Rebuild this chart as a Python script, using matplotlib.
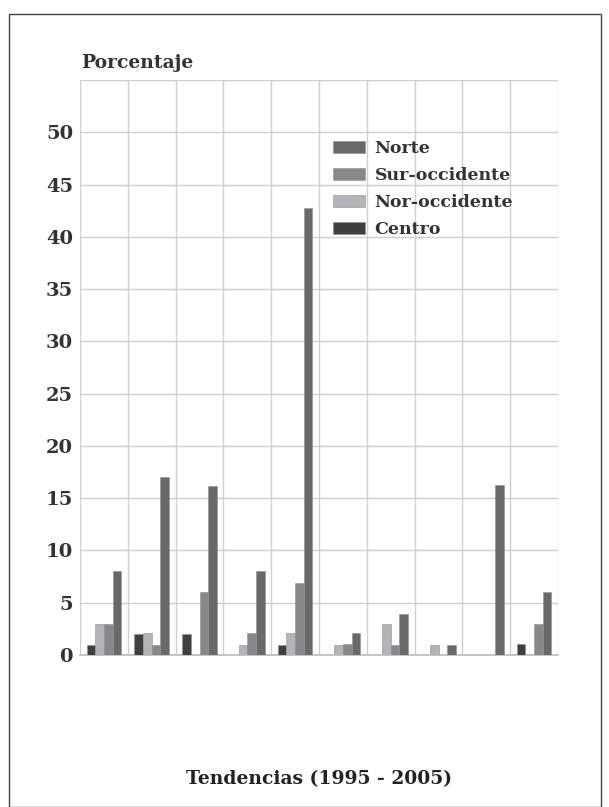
import numpy as np
import matplotlib.pyplot as plt
from matplotlib.patches import Rectangle

# Data (10 groups, 1995-2005)
series = ["Centro", "Nor-occidente", "Sur-occidente", "Norte"]
centro = [1, 2, 2, 0, 1, 0, 0, 0, 0, 1.1]
nor_occ = [3, 2.1, 0, 1, 2.1, 1, 3, 1, 0, 0]
sur_occ = [3, 1, 6, 2.1, 6.9, 1.1, 1, 0, 0, 3]
norte = [8, 17, 16.2, 8, 42.8, 2.1, 3.9, 1, 16.3, 6]
colors = {"Centro": "#3f3f41", "Nor-occidente": "#b4b4b6",
          "Sur-occidente": "#88888a", "Norte": "#69696b"}
yticks = [0, 5, 10, 15, 20, 25, 30, 35, 40, 45, 50]

plt.rcParams['font.family'] = ['DejaVu Serif']

fig = plt.figure(figsize=(6.09, 8.07), dpi=100)
ax = fig.add_axes([80 / 609, 1 - 655 / 807, 478 / 609, 575 / 807])

x = np.arange(len(norte))
w = 0.18
vals = [centro, nor_occ, sur_occ, norte]
for i, (name, v) in enumerate(zip(series, vals)):
    ax.bar(x + (i - 1.5) * w, v, width=w, color=colors[name],
           edgecolor="#909090", linewidth=0.4, zorder=3)

ax.set_xlim(-0.5, len(norte) - 0.5)
ax.set_ylim(0, 55)
ax.set_xticks(np.arange(-0.5, len(norte), 1))
ax.set_xticklabels([])
ax.set_yticks(np.arange(0, 56, 5))
ax.set_yticklabels([str(t) if t in yticks else "" for t in range(0, 56, 5)],
                   fontsize=14, fontweight="bold", color="#333333")
ax.tick_params(length=0, pad=5)
ax.grid(True, color="#cfcfcf", linewidth=1, zorder=0)
for s in ["top", "right", "left"]:
    ax.spines[s].set_visible(False)
ax.spines["bottom"].set_color("#bbbbbb")
ax.spines["bottom"].set_linewidth(1.2)

# legend (Norte first)
handles = [Rectangle((0, 0), 1, 1, color=colors[n], ec="#909090", lw=0.4)
           for n in series[::-1]]
ax.legend(handles, series[::-1], loc="upper left",
          bbox_to_anchor=(253 / 478, 1 - 60 / 575), frameon=False,
          prop={"size": 12.5, "weight": "bold"}, labelcolor="#333333",
          handlelength=1.83, handleheight=0.7, handletextpad=0.57,
          labelspacing=0.58, borderpad=0, borderaxespad=0)

fig.text(81 / 609, 1 - 63 / 807, "Porcentaje", fontsize=13.5,
         fontweight="bold", color="#333333", va="center", ha="left")
fig.text(319 / 609, 1 - 779 / 807, "Tendencias (1995 - 2005)", fontsize=13.5,
         fontweight="bold", color="#222222", va="center", ha="center")

# page frame
fig.patches.append(Rectangle((9 / 609, 0), 592 / 609, 1 - 14 / 807,
                             transform=fig.transFigure, fill=False,
                             ec="#444444", lw=1))

fig.savefig("out.png", dpi=100)
